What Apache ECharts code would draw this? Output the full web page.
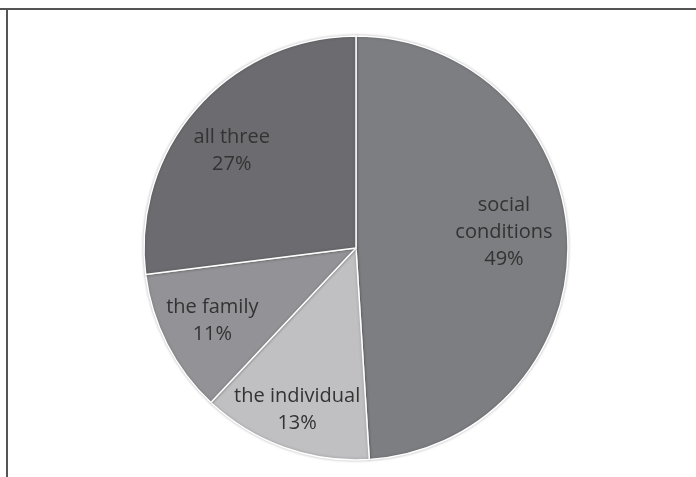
<!DOCTYPE html>
<html>
<head>
<meta charset="utf-8">
<script src="https://cdn.jsdelivr.net/npm/echarts@6/dist/echarts.min.js"></script>
<style>
  html, body { margin: 0; padding: 0; background: #fff; }
  #chart { width: 696px; height: 477px; }
</style>
</head>
<body>
<div id="chart"></div>
<script>
// Share of responses by attributed cause
const categories = ['social conditions', 'the individual', 'the family', 'all three'];
const shares = [49, 13, 11, 27];
const sliceColors = ['#7d7e82', '#c0c0c3', '#939397', '#6c6c70'];

const chart = echarts.init(document.getElementById('chart'), null, { renderer: 'canvas' });

const CX = 356, CY = 248, R = 212;
const LABEL_FRACTION = 0.75;
// small per-slice label nudges (px) on top of the radial placement
const LABEL_NUDGE = [[-11, -11], [-5, 12], [-2, 1], [-5, 8]];
const total = shares.reduce((a, b) => a + b, 0);

// mid-angle of each slice, measured clockwise from 12 o'clock
const midAngles = [];
let acc = 0;
shares.forEach(v => {
  midAngles.push((acc + v / 2) / total * 2 * Math.PI);
  acc += v;
});

chart.setOption({
  animation: false,
  graphic: [
    { type: 'line', shape: { x1: 0, y1: 9, x2: 696, y2: 9 }, style: { stroke: '#555', lineWidth: 2 } },
    { type: 'line', shape: { x1: 7, y1: 8, x2: 7, y2: 477 }, style: { stroke: '#555', lineWidth: 2 } }
  ],
  series: [{
    type: 'pie',
    center: [CX, CY],
    radius: [0, R],
    startAngle: 90,
    clockwise: true,
    avoidLabelOverlap: false,
    data: categories.map((name, i) => ({ name, value: shares[i], itemStyle: { color: sliceColors[i] } })),
    itemStyle: {
      borderColor: '#ffffff',
      borderWidth: 1.5,
      shadowColor: 'rgba(0,0,0,0.25)',
      shadowBlur: 3
    },
    label: {
      show: true,
      position: 'inside',
      formatter: p => p.name.replace(' conditions', '\nconditions') + '\n' + p.value + '%',
      color: '#333333',
      fontFamily: 'Open Sans',
      fontSize: 20,
      lineHeight: 27,
      align: 'center'
    },
    labelLine: { show: false },
    labelLayout: params => {
      const i = params.dataIndex;
      const a = midAngles[i];
      return {
        x: CX + Math.sin(a) * R * LABEL_FRACTION + LABEL_NUDGE[i][0],
        y: CY - Math.cos(a) * R * LABEL_FRACTION + LABEL_NUDGE[i][1],
        align: 'center',
        verticalAlign: 'middle'
      };
    },
    emphasis: { disabled: true }
  }]
});
</script>
</body>
</html>
